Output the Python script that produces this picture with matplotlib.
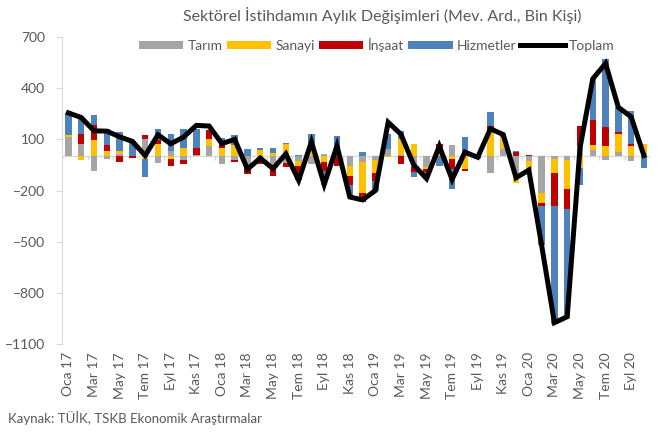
import matplotlib
matplotlib.use("Agg")
import matplotlib.pyplot as plt
import numpy as np

plt.rcParams['font.family'] = ['Lato', 'DejaVu Sans']

# aylar: Oca 17 - Eki 20
ay_adlari = ['Oca', 'Şub', 'Mar', 'Nis', 'May', 'Haz', 'Tem', 'Ağu', 'Eyl', 'Eki', 'Kas', 'Ara']
aylar = [f'{ay_adlari[i % 12]} {17 + i // 12}' for i in range(46)]

tarim = [113, 74, -88, -18, 12, 3, 103, -39, 29, -20, 10, 60,
         -47, -23, -59, -23, -72, -39, -27, -45, 12, 10, -58, -30,
         -20, 45, 10, -62, -62, 0, 68, 0, 5, -98, 45, -100,
         -27, -215, -14, -23, 60, 39, -23, 25, -29, 0]
sanayi = [10, -20, 98, 29, 18, 0, -14, 74, -14, 51, 0, 43,
          49, 64, 0, 35, 21, 70, -31, 55, -33, 15, -58, -185,
          -80, -5, 95, 74, -10, 50, -14, -72, 5, 156, 68, -55,
          -55, -57, -84, -166, -68, 25, 59, 107, 59, 74]
insaat = [0, 58, 84, 39, -33, -8, 23, 23, -45, -27, 40, 53,
          31, -8, -43, -23, -45, -23, -78, 0, -53, -55, -49, -55,
          -45, 0, -45, -29, -22, 25, -58, -14, -5, 20, 0, 25,
          6, -20, -193, -117, 117, 147, 113, 10, 14, 0]
hizmetler = [132, 107, 58, 90, 113, 88, -107, 64, 103, 111, 112, 0,
             27, 64, 41, 16, 29, 8, 6, 75, -84, 95, -72, 25,
             -55, 88, 45, -29, -10, -55, -117, 113, -10, 84, 10, 8,
             0, -230, -690, -635, -100, 243, 400, 146, 191, -68]
toplam = [255, 228, 150, 148, 115, 88, 5, 127, 74, 113, 182, 178,
          75, 100, -75, -10, -72, 15, -140, 85, -165, 62, -238, -255,
          -200, 200, 130, -50, -130, 60, -135, 25, -5, 162, 128, -125,
          -80, -520, -975, -940, 50, 455, 545, 288, 232, 5]

seriler = [('Tarım', tarim, '#A5A5A5'),
           ('Sanayi', sanayi, '#FFC000'),
           ('İnşaat', insaat, '#C00000'),
           ('Hizmetler', hizmetler, '#4F81BD')]

x = np.arange(len(aylar))
text_color = '#595959'
grid_color = '#D9D9D9'

fig = plt.figure(figsize=(6.67, 4.33), dpi=100)
ax = fig.add_axes([0.093, 0.2055, 0.882, 0.709])

pos_base = np.zeros(len(x))
neg_base = np.zeros(len(x))
handles = []
for name, vals, color in seriler:
    v = np.array(vals, dtype=float)
    bottom = np.where(v >= 0, pos_base, neg_base)
    h = ax.bar(x, v, bottom=bottom, width=0.5, color=color, label=name, zorder=2)
    handles.append(h)
    pos_base += np.where(v >= 0, v, 0)
    neg_base += np.where(v < 0, v, 0)

line, = ax.plot(x, toplam, color='black', lw=3.6, label='Toplam', zorder=3,
                solid_joinstyle='miter')
handles.append(line)

# sıfır çizgisi ve kategori işaretleri
ax.axhline(0, color=grid_color, lw=1, zorder=1)
ax.vlines(np.arange(-0.5, len(x), 2), -22, 0, color=grid_color, lw=1, zorder=1)

ax.set_xlim(-0.5, len(x) - 0.5)
ax.set_ylim(-1100, 700)
ax.set_yticks(np.arange(-1100, 701, 300))
ax.set_xticks(x[::2])
ax.set_xticklabels(aylar[::2], rotation=90)

for s in ['top', 'right', 'bottom']:
    ax.spines[s].set_visible(False)
ax.spines['left'].set_color(grid_color)
ax.tick_params(axis='y', colors=grid_color, labelcolor=text_color,
               labelsize=10, length=4, pad=8)
ax.tick_params(axis='x', length=0, labelcolor=text_color, labelsize=10, pad=6)

fig.text(0.573, 0.965, 'Sektörel İstihdamın Aylık Değişimleri (Mev. Ard., Bin Kişi)',
         ha='center', va='center', fontsize=11.5, color=text_color)
fig.legend(handles=handles, labels=[h.get_label() for h in handles],
           loc='center', bbox_to_anchor=(0.565, 0.897), ncol=5, frameon=False,
           fontsize=10, labelcolor=text_color, handlelength=3.2, handleheight=0.5,
           columnspacing=0.3, handletextpad=0.3)
fig.text(0.012, 0.035, 'Kaynak: TÜİK, TSKB Ekonomik Araştırmalar',
         ha='left', va='center', fontsize=9.5, color=text_color)

fig.savefig('out.png', dpi=100)
